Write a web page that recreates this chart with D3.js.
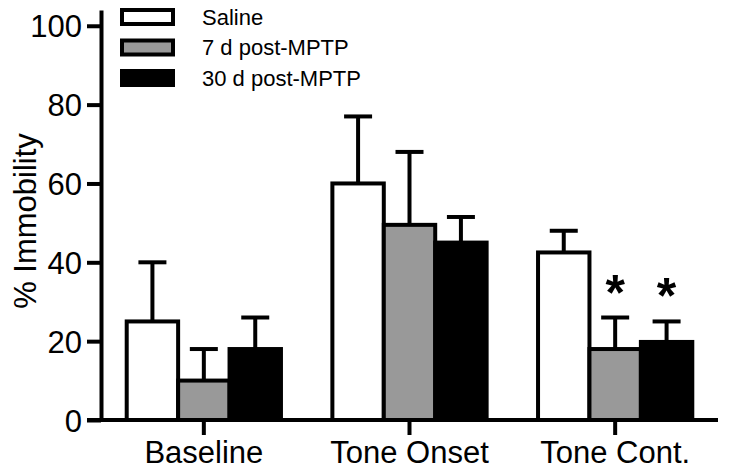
<!DOCTYPE html>
<html>
<head>
<meta charset="utf-8">
<script src="https://cdn.jsdelivr.net/npm/d3@7"></script>
<style>
  body { margin: 0; background: #fff; }
  text { font-family: "Liberation Sans", Arial, sans-serif; fill: #000; }
</style>
</head>
<body>
<svg id="chart" width="729" height="473"></svg>
<script>
// data
const groups = ["Baseline", "Tone Onset", "Tone Cont."]
const series = ["Saline", "7 d post-MPTP", "30 d post-MPTP"]
const colors = ["#ffffff", "#999999", "#000000"]
const means = [
  [25, 10, 18],
  [60, 49.5, 45],
  [42.5, 18, 19.8]
]
const sems = [
  [15, 8, 8],
  [17, 18.5, 6.5],
  [5.5, 8, 5.2]
]
const stars = [
  [false, false, false],
  [false, false, false],
  [false, true, true]
]
const yTicks = [0, 20, 40, 60, 80, 100]

const svg = d3.select("#chart")

const y = d3.scaleLinear().domain([0, 104]).range([420, 10])
const x0 = d3.scaleBand().domain(groups).range([101, 718])
  .paddingInner(0.25).paddingOuter(0.125)
const x1 = d3.scaleBand().domain(series).range([0, x0.bandwidth()])

// bars
const g = svg.append("g")
groups.forEach((grp, gi) => {
  const gg = g.append("g").attr("transform", "translate(" + x0(grp) + ",0)")
  series.forEach((s, si) => {
    const v = means[gi][si]
    const e = sems[gi][si]
    const cx = x1(s) + x1.bandwidth() / 2
    // error bar (upper only)
    gg.append("line")
      .attr("x1", cx).attr("x2", cx)
      .attr("y1", y(v)).attr("y2", y(v + e))
      .attr("stroke", "#000").attr("stroke-width", 4)
    gg.append("line")
      .attr("x1", cx - 14).attr("x2", cx + 14)
      .attr("y1", y(v + e)).attr("y2", y(v + e))
      .attr("stroke", "#000").attr("stroke-width", 4)
    gg.append("rect")
      .attr("x", x1(s))
      .attr("y", y(v))
      .attr("width", x1.bandwidth())
      .attr("height", y(0) - y(v))
      .attr("fill", colors[si])
      .attr("stroke", "#000")
      .attr("stroke-width", 4)
    if (stars[gi][si]) {
      gg.append("text")
        .attr("x", cx)
        .attr("y", y(v + e) - 8)
        .attr("text-anchor", "middle")
        .style("font-size", "50px")
        .style("font-weight", "bold")
        .text("*")
    }
  })
})

// y axis
const yAxis = svg.append("g")
  .attr("transform", "translate(101,0)")
  .call(d3.axisLeft(y).tickValues(yTicks).tickSize(14).tickSizeOuter(0).tickPadding(5))
yAxis.select(".domain").attr("stroke-width", 4)
yAxis.selectAll(".tick line").attr("stroke-width", 4)
yAxis.selectAll(".tick text")
  .style("font-size", "31px")
  .attr("font-family", null)
  .attr("dy", "0.36em")

// x axis
const xAxis = svg.append("g")
  .attr("transform", "translate(0,420)")
  .call(d3.axisBottom(x0).tickSize(15).tickSizeOuter(0).tickPadding(6))
xAxis.select(".domain").attr("d", "M87,0H718").attr("stroke-width", 4)
xAxis.selectAll(".tick line").attr("stroke-width", 4)
xAxis.selectAll(".tick text")
  .style("font-size", "31px")
  .attr("font-family", null)

// y title
svg.append("text")
  .attr("transform", "translate(36,221) rotate(-90)")
  .attr("text-anchor", "middle")
  .style("font-size", "31px")
  .text("% Immobility")

// legend
const legend = svg.append("g")
series.forEach((s, i) => {
  const ly = 17 + i * 30.5
  legend.append("rect")
    .attr("x", 122).attr("y", ly - 7)
    .attr("width", 51).attr("height", 14)
    .attr("fill", colors[i])
    .attr("stroke", "#000").attr("stroke-width", 4)
  legend.append("text")
    .attr("x", 202).attr("y", ly)
    .attr("dy", "0.36em")
    .style("font-size", "22px")
    .text(s)
})
</script>
</body>
</html>
